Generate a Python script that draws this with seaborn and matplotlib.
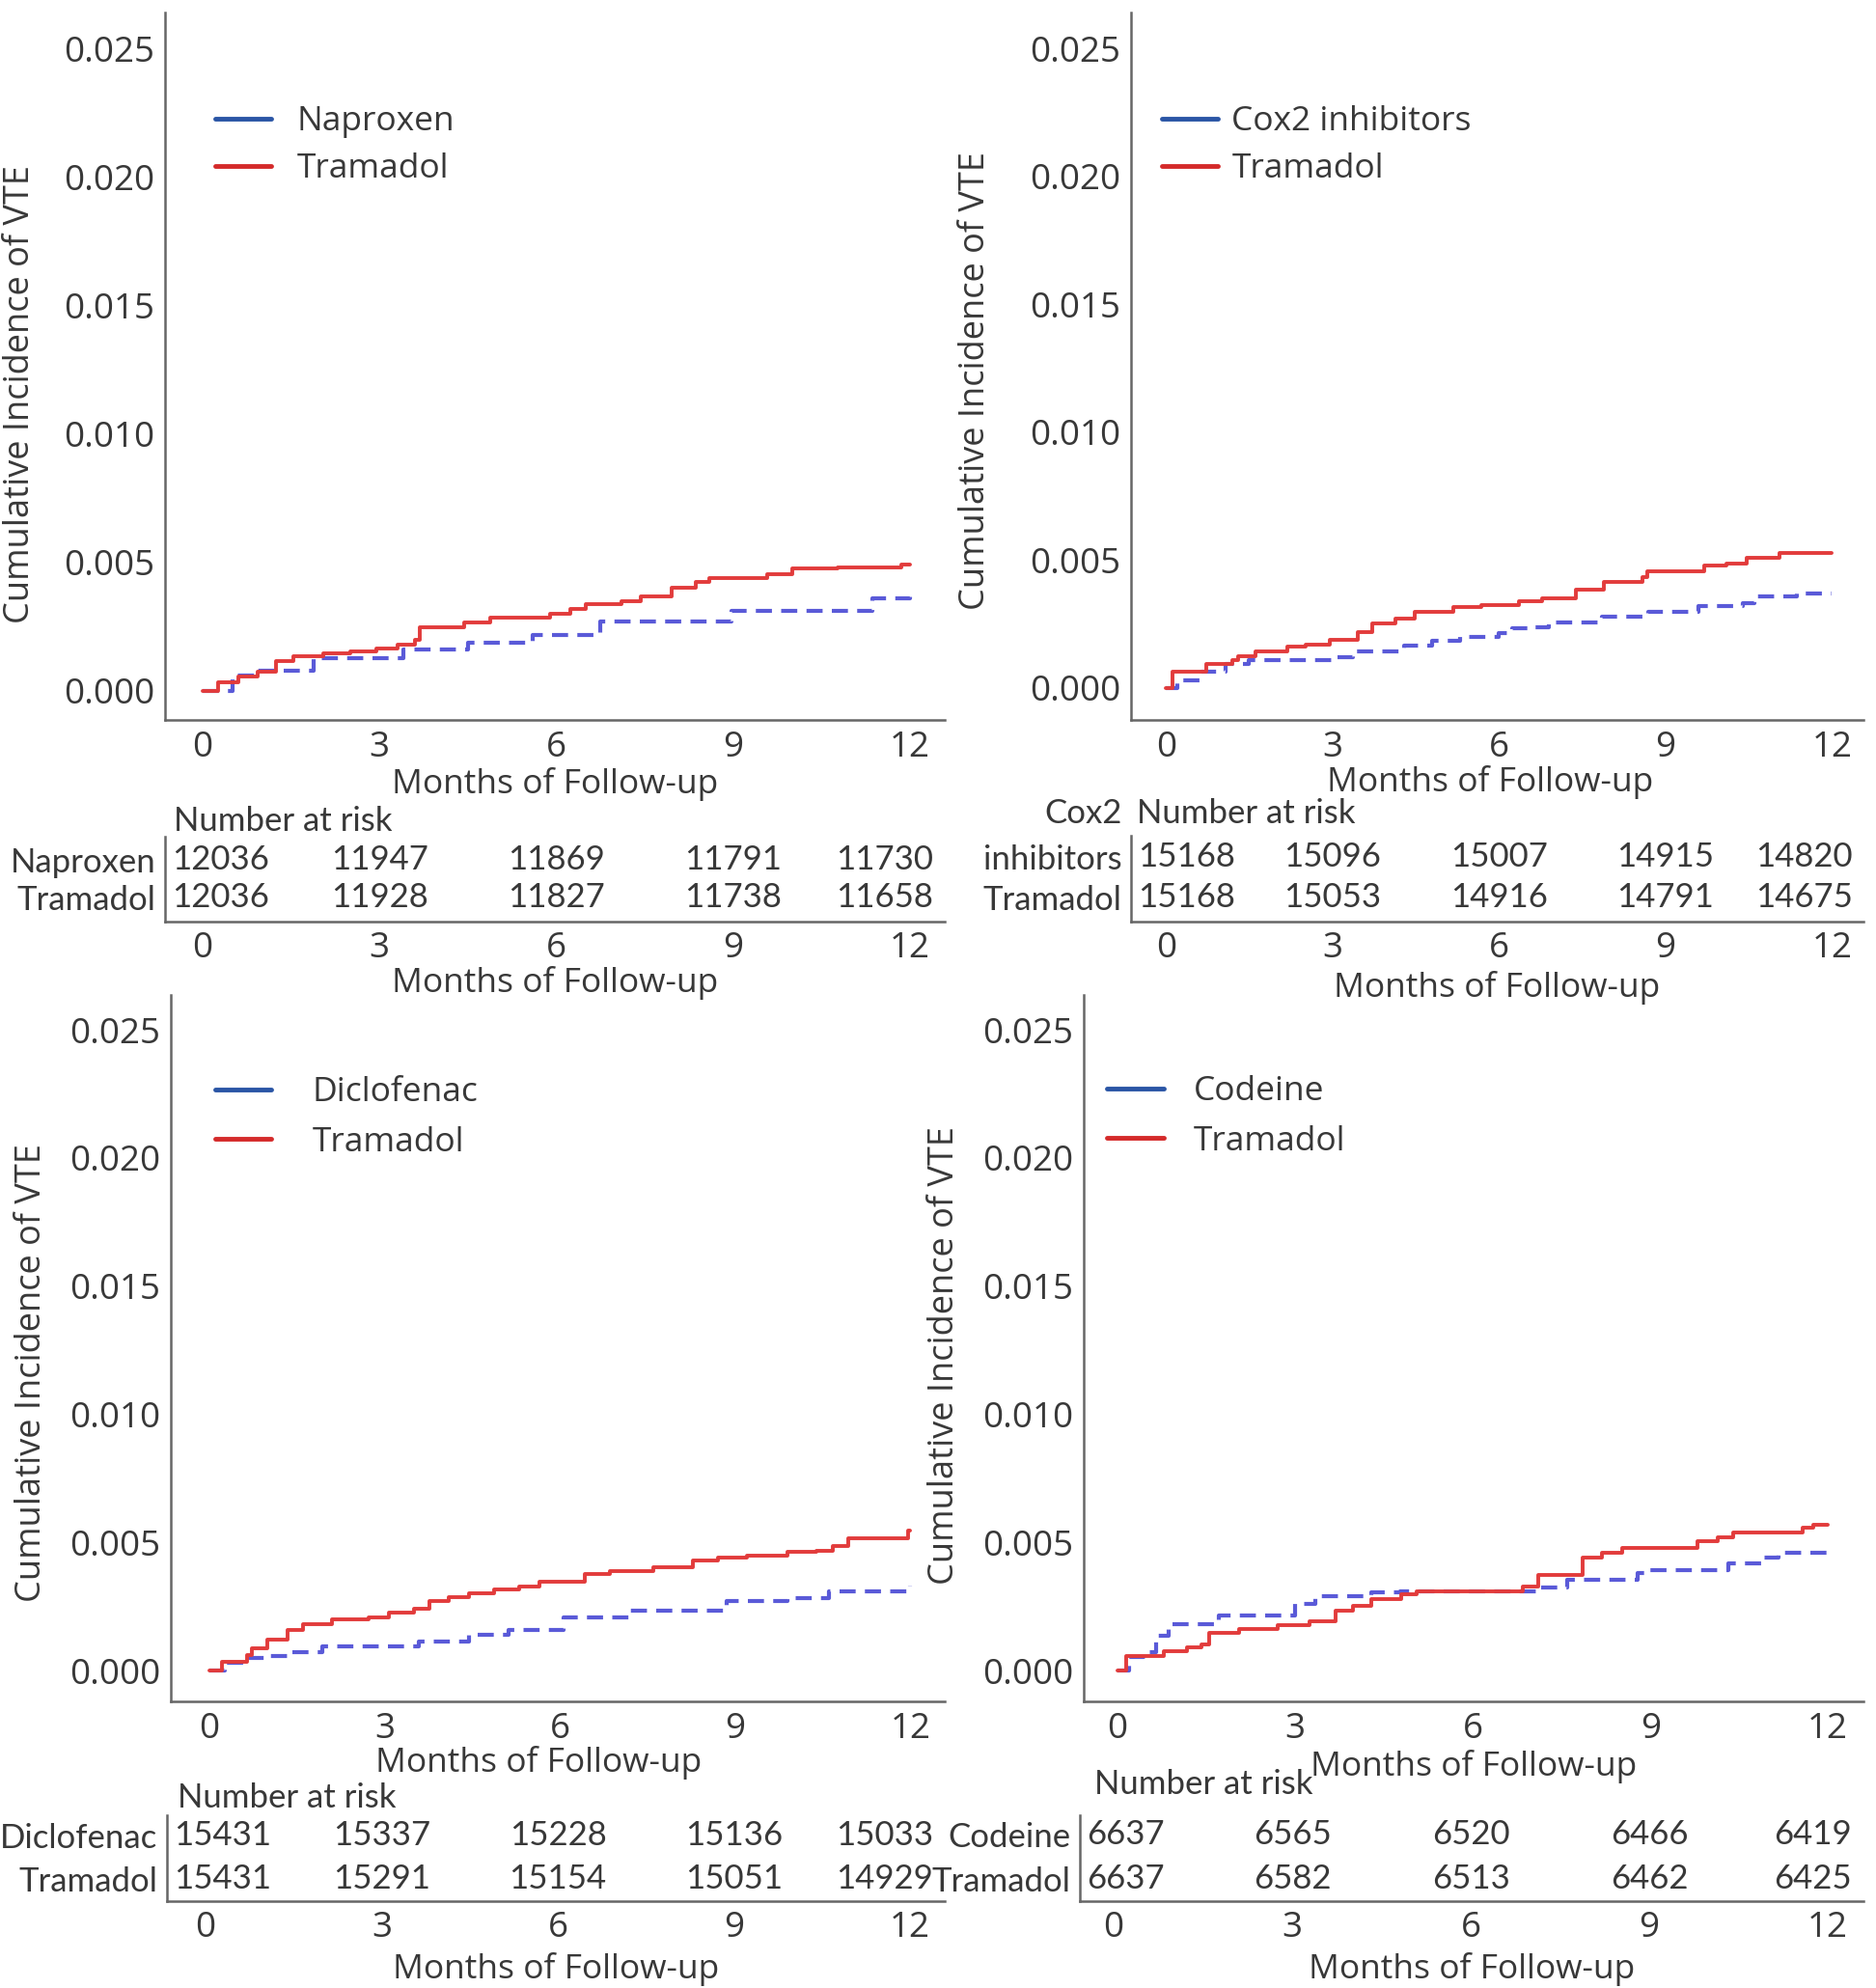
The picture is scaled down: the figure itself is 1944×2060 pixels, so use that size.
import numpy as np
import pandas as pd
import matplotlib
matplotlib.use("Agg")
import matplotlib.pyplot as plt
from matplotlib.lines import Line2D
from matplotlib import font_manager
import seaborn as sns

# ---- data ----
months = [0, 3, 6, 9, 12]

# panel A: Naproxen vs Tramadol
nap_t = [0, 0.5, 0.94, 1.88, 3.4, 4.5, 5.6, 6.75, 8.97, 11.36, 12]
nap_ci = [0, 0.0006, 0.0008, 0.00126, 0.0016, 0.00186, 0.00217, 0.00271, 0.00312, 0.00359, 0.00367]
traA_t = [0, 0.26, 0.6, 0.94, 1.24, 1.54, 2.05, 2.5, 2.95, 3.3, 3.6, 3.68, 4.44, 4.87, 5.9, 6.24, 6.5,
          7.1, 7.44, 7.95, 8.37, 8.6, 9.57, 10.0, 10.77, 11.85, 12]
traA_ci = [0, 0.00035, 0.00055, 0.00073, 0.00117, 0.00136, 0.00146, 0.00155, 0.00163, 0.0018, 0.00199,
           0.00249, 0.00268, 0.00286, 0.00299, 0.00318, 0.00337, 0.00349, 0.00368, 0.00402, 0.00425,
           0.0044, 0.00455, 0.00475, 0.00481, 0.0049, 0.0049]
risk_nap = [12036, 11947, 11869, 11791, 11730]
risk_traA = [12036, 11928, 11827, 11738, 11658]

# panel B: Cox2 inhibitors vs Tramadol
cox_t = [0, 0.2, 0.64, 1.07, 1.5, 3.1, 3.37, 4.3, 4.8, 5.3, 6.0, 6.24, 6.6, 6.9, 7.85, 8.7, 9.6,
         10.4, 10.6, 11.37, 12]
cox_ci = [0, 0.0003, 0.00063, 0.00094, 0.00107, 0.00122, 0.00142, 0.00164, 0.00183, 0.00198, 0.00214,
          0.00233, 0.00239, 0.00256, 0.00277, 0.00296, 0.00319, 0.00331, 0.00356, 0.00369, 0.00369]
traB_t = [0, 0.12, 0.73, 1.2, 1.3, 1.62, 2.18, 2.52, 2.95, 3.46, 3.72, 4.14, 4.48, 5.17, 5.68, 6.36,
          6.78, 7.39, 7.9, 8.58, 8.67, 9.7, 10.1, 10.46, 11.05, 12]
traB_ci = [0, 0.00063, 0.00094, 0.0011, 0.00125, 0.00141, 0.0016, 0.0017, 0.00189, 0.0022, 0.00252,
           0.0027, 0.00299, 0.00318, 0.00324, 0.0034, 0.0035, 0.00384, 0.00416, 0.00435, 0.00457,
           0.00479, 0.00485, 0.0051, 0.00527, 0.00527]
risk_cox = [15168, 15096, 15007, 14915, 14820]
risk_traB = [15168, 15053, 14916, 14791, 14675]

# panel C: Diclofenac vs Tramadol
dic_t = [0, 0.26, 0.65, 1.0, 1.42, 1.94, 3.58, 4.45, 5.12, 6.07, 7.2, 8.86, 9.9, 10.6, 12]
dic_ci = [0, 0.00029, 0.0005, 0.00057, 0.00072, 0.00094, 0.00113, 0.00138, 0.00157, 0.00207, 0.00235,
          0.0027, 0.00283, 0.0031, 0.0033]
traC_t = [0, 0.22, 0.65, 0.73, 0.99, 1.34, 1.6, 2.1, 2.72, 3.07, 3.5, 3.76, 4.1, 4.45, 4.88, 5.3,
          5.65, 6.43, 6.86, 7.6, 8.27, 8.7, 9.2, 9.9, 10.4, 10.67, 10.93, 11.97, 12]
traC_ci = [0, 0.00034, 0.00059, 0.00088, 0.0012, 0.00157, 0.0018, 0.002, 0.00208, 0.00227, 0.0024,
           0.0027, 0.00287, 0.00302, 0.00315, 0.00327, 0.00346, 0.00377, 0.00387, 0.00403, 0.00428,
           0.0044, 0.00447, 0.00463, 0.00467, 0.00488, 0.00516, 0.00545, 0.00545]
risk_dic = [15431, 15337, 15228, 15136, 15033]
risk_traC = [15431, 15291, 15154, 15051, 14929]

# panel D: Codeine vs Tramadol
cod_t = [0, 0.19, 0.44, 0.65, 0.87, 1.72, 3.0, 3.34, 4.28, 4.77, 7.15, 7.59, 8.79, 8.96, 10.32,
         10.9, 11.16, 12]
cod_ci = [0, 0.00053, 0.00072, 0.00135, 0.00181, 0.00214, 0.0026, 0.00289, 0.00304, 0.0031, 0.00323,
          0.00354, 0.00379, 0.00391, 0.00417, 0.00442, 0.00458, 0.00458]
traD_t = [0, 0.15, 0.78, 1.17, 1.42, 1.55, 2.06, 2.7, 3.25, 3.68, 3.98, 4.28, 4.8, 5.05, 6.84, 7.1,
          7.85, 8.19, 8.53, 9.8, 10.14, 10.4, 11.58, 11.75, 12]
traD_ci = [0, 0.00058, 0.00076, 0.00091, 0.00103, 0.00148, 0.00163, 0.00176, 0.00191, 0.00235, 0.00254,
           0.00279, 0.00298, 0.0031, 0.00329, 0.00373, 0.00442, 0.0046, 0.00477, 0.00505, 0.0052,
           0.0054, 0.00558, 0.0057, 0.0057]
risk_cod = [6637, 6565, 6520, 6466, 6419]
risk_traD = [6637, 6582, 6513, 6462, 6425]

yticks = [0.0, 0.005, 0.010, 0.015, 0.020, 0.025]

# ---- style ----
sns.set_style("white")
plt.rcParams['font.family'] = ['Open Sans', 'DejaVu Sans']
names = {f.name for f in font_manager.fontManager.ttflist}
table_font = 'Liberation Sans Narrow' if 'Liberation Sans Narrow' in names else 'Lato'

TXT = '#383838'
SPINE = '#666666'
RED = '#e23b3b'
BLUE_DASH = '#5a5ad8'
LEG_BLUE = '#2a55a5'
LEG_RED = '#d42a2a'
TICK_FS = 26.5
LAB_FS = 25.5
YLAB_FS = 26
LEG_FS = 25.5
TFS = 25

W, H = 1944, 2060
fig = plt.figure(figsize=(W / 100, H / 100), dpi=100)


def add_ax(left, right, top, bottom):
    a = fig.add_axes([left / W, 1 - bottom / H, (right - left) / W, (bottom - top) / H])
    a.patch.set_alpha(0)
    return a


def style_spines(ax):
    for s in ['top', 'right']:
        ax.spines[s].set_visible(False)
    for s in ['left', 'bottom']:
        ax.spines[s].set_color(SPINE)
        ax.spines[s].set_linewidth(1.8)
    ax.tick_params(length=5, width=1, color='#999999', labelcolor=TXT)


panels = [
    dict(cmp=(nap_t, nap_ci), tra=(traA_t, traA_ci), name='Naproxen', risk=(risk_nap, risk_traA),
         box=(171, 979, 13, 746), xlim=(-0.64, 12.59), ylim=(-0.00113, 0.02639),
         ylab=(-0.186, 0.46), xlab=(0.5, -66), leg=(0.064, 0.869, 0.75, 0.42),
         tbox=(171, 979, 867, 955), rows=(891, 930), nar=(180, 851), txlab=63),
    dict(cmp=(cox_t, cox_ci), tra=(traB_t, traB_ci), name='Cox2 inhibitors', risk=(risk_cox, risk_traB),
         box=(1172, 1931, 13, 746), xlim=(-0.63, 12.57), ylim=(-0.00125, 0.0264),
         ylab=(-0.212, 0.48), xlab=(0.49, -64), leg=(0.042, 0.869, 0.4, 0.42),
         tbox=(1172, 1931, 866, 955), rows=(888, 930), nar=(1178, 843), txlab=69),
    dict(cmp=(dic_t, dic_ci), tra=(traC_t, traC_ci), name='Diclofenac', risk=(risk_dic, risk_traC),
         box=(177, 979, 1031, 1763), xlim=(-0.66, 12.59), ylim=(-0.0012, 0.02636),
         ylab=(-0.18, 0.465), xlab=(0.475, -64), leg=(0.057, 0.885, 1.2, 0.49),
         tbox=(173, 979, 1881, 1970), rows=(1902, 1947), nar=(184, 1863), txlab=70),
    dict(cmp=(cod_t, cod_ci), tra=(traD_t, traD_ci), name='Codeine', risk=(risk_cod, risk_traD),
         box=(1123, 1931, 1031, 1763), xlim=(-0.57, 12.6), ylim=(-0.0012, 0.02636),
         ylab=(-0.178, 0.49), xlab=(0.5, -67), leg=(0.03, 0.886, 0.87, 0.49),
         tbox=(1119, 1931, 1881, 1970), rows=(1901, 1947), nar=(1134, 1849), txlab=70),
]

for p in panels:
    ax = add_ax(*p['box'])
    ct, cc = p['cmp']
    tt, tc = p['tra']
    sns.lineplot(x=ct, y=cc, ax=ax, color=BLUE_DASH, lw=3, drawstyle='steps-post',
                 linestyle=(0, (4, 2.3)), estimator=None)
    sns.lineplot(x=tt, y=tc, ax=ax, color=RED, lw=2.8, drawstyle='steps-post', estimator=None)
    ax.set_xlim(*p['xlim'])
    ax.set_ylim(*p['ylim'])
    ax.set_xticks(months)
    ax.set_xticklabels([str(m) for m in months], fontsize=TICK_FS)
    ax.set_yticks(yticks)
    ax.set_yticklabels(['%.3f' % v for v in yticks], fontsize=TICK_FS)
    style_spines(ax)
    ax.tick_params(axis='x', pad=3)
    ax.tick_params(axis='y', pad=3)
    ax_h = p['box'][3] - p['box'][2]
    ax.set_ylabel('Cumulative Incidence of VTE', fontsize=YLAB_FS, color=TXT)
    ax.yaxis.set_label_coords(*p['ylab'])
    ax.set_xlabel('Months of Follow-up', fontsize=LAB_FS, color=TXT)
    ax.xaxis.set_label_coords(p['xlab'][0], p['xlab'][1] / ax_h)
    ax.xaxis.label.set_va('center')
    ax.yaxis.label.set_va('center')

    handles = [Line2D([], [], color=LEG_BLUE, lw=3.5), Line2D([], [], color=LEG_RED, lw=3.5)]
    ax.legend(handles, [p['name'], 'Tramadol'], loc='upper left', bbox_to_anchor=(p['leg'][0], p['leg'][1]),
              frameon=False, fontsize=LEG_FS, handlelength=1.65, handletextpad=p['leg'][2],
              labelspacing=p['leg'][3], borderpad=0, borderaxespad=0, labelcolor=TXT)

    # risk table
    tax = add_ax(*p['tbox'])
    r1, r2 = p['rows']
    sp = r2 - r1
    tb = p['tbox']
    tax.set_ylim(1 - (tb[3] - r2) / sp, 2 + (r1 - tb[2]) / sp)
    tax.set_xlim(*p['xlim'])
    style_spines(tax)
    label_words = p['name'].split(' ', 1)
    row_labels = [label_words[-1], 'Tramadol']
    tax.set_yticks([2, 1])
    tax.set_yticklabels(row_labels, fontsize=TFS, family=table_font)
    tax.tick_params(axis='y', pad=2)
    if len(label_words) > 1:
        tax.text(-0.012, 2 + (r1 - p['nar'][1]) / sp, label_words[0], transform=tax.get_yaxis_transform(),
                 ha='right', va='center', fontsize=TFS, family=table_font, color=TXT, clip_on=False)
    tax.set_xticks(months)
    tax.set_xticklabels([str(m) for m in months], fontsize=TICK_FS)
    tax.tick_params(axis='x', pad=2)
    tax.set_xlabel('Months of Follow-up', fontsize=LAB_FS, color=TXT)
    tax.xaxis.set_label_coords(0.5, -p['txlab'] / (tb[3] - tb[2]))
    tax.xaxis.label.set_va('center')
    aligns = ['left', 'center', 'center', 'center', 'right']
    x0, x1 = p['xlim']
    for yrow, vals in zip([2, 1], p['risk']):
        for i, (m, v) in enumerate(zip(months, vals)):
            xpos = m
            if i == 0:
                xpos = x0 + 0.12
            elif i == len(months) - 1:
                xpos = x1 - 0.2
            tax.text(xpos, yrow, str(v), ha=aligns[i], va='center', fontsize=TFS,
                     family=table_font, color=TXT)
    fig.text(p['nar'][0] / W, 1 - p['nar'][1] / H, 'Number at risk', ha='left', va='center',
             fontsize=TFS, family=table_font, color=TXT)

fig.savefig('out.png', dpi=100)
